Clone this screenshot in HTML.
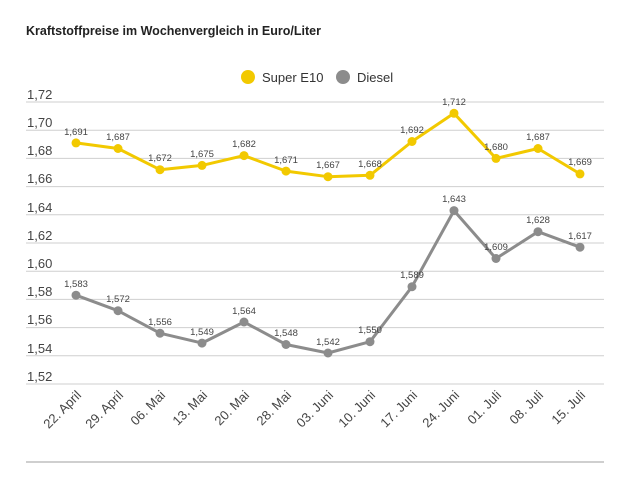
<!DOCTYPE html>
<html><head><meta charset="utf-8"><style>
body{margin:0;background:#fff;}
svg{display:block;font-family:"Liberation Sans","DejaVu Sans",sans-serif;}
</style></head><body>
<svg width="640" height="480" viewBox="0 0 640 480" xmlns="http://www.w3.org/2000/svg">
<text x="26" y="35" font-size="12.5" font-weight="bold" fill="#222">Kraftstoffpreise im Wochenvergleich in Euro/Liter</text>
<circle cx="248" cy="77" r="7" fill="#f2c900"/>
<text x="262" y="82" font-size="13" fill="#333">Super E10</text>
<circle cx="343" cy="77" r="7" fill="#8c8c8c"/>
<text x="357" y="82" font-size="13" fill="#333">Diesel</text>
<g stroke="#cfcfcf" stroke-width="1">
<line x1="26" x2="604" y1="102" y2="102"/><line x1="26" x2="604" y1="130.2" y2="130.2"/>
<line x1="26" x2="604" y1="158.4" y2="158.4"/><line x1="26" x2="604" y1="186.6" y2="186.6"/>
<line x1="26" x2="604" y1="214.8" y2="214.8"/><line x1="26" x2="604" y1="243" y2="243"/>
<line x1="26" x2="604" y1="271.2" y2="271.2"/><line x1="26" x2="604" y1="299.4" y2="299.4"/>
<line x1="26" x2="604" y1="327.6" y2="327.6"/><line x1="26" x2="604" y1="355.8" y2="355.8"/>
<line x1="26" x2="604" y1="384" y2="384"/>
</g>
<line x1="26" x2="604" y1="462" y2="462" stroke="#cfcfcf" stroke-width="2"/>
<g font-size="13" fill="#444">
<text x="27" y="99">1,72</text><text x="27" y="127">1,70</text><text x="27" y="155">1,68</text>
<text x="27" y="183">1,66</text><text x="27" y="212">1,64</text><text x="27" y="240">1,62</text>
<text x="27" y="268">1,60</text><text x="27" y="296">1,58</text><text x="27" y="324">1,56</text>
<text x="27" y="353">1,54</text><text x="27" y="381">1,52</text>
</g>
<polyline fill="none" stroke="#f2c900" stroke-width="3" stroke-linejoin="round" points="76,142.9 118,148.5 160,169.7 202,165.4 244,155.6 286,171.1 328,176.7 370,175.3 412,141.5 454,113.3 496,158.4 538,148.5 580,173.9"/>
<g fill="#f2c900">
<circle cx="76" cy="142.9" r="4.5"/><circle cx="118" cy="148.5" r="4.5"/><circle cx="160" cy="169.7" r="4.5"/><circle cx="202" cy="165.4" r="4.5"/><circle cx="244" cy="155.6" r="4.5"/><circle cx="286" cy="171.1" r="4.5"/><circle cx="328" cy="176.7" r="4.5"/><circle cx="370" cy="175.3" r="4.5"/><circle cx="412" cy="141.5" r="4.5"/><circle cx="454" cy="113.3" r="4.5"/><circle cx="496" cy="158.4" r="4.5"/><circle cx="538" cy="148.5" r="4.5"/><circle cx="580" cy="173.9" r="4.5"/>
</g>
<polyline fill="none" stroke="#8c8c8c" stroke-width="3" stroke-linejoin="round" points="76,295.2 118,310.7 160,333.2 202,343.1 244,322 286,344.5 328,353 370,341.7 412,286.7 454,210.6 496,258.5 538,231.7 580,247.2"/>
<g fill="#8c8c8c">
<circle cx="76" cy="295.2" r="4.5"/><circle cx="118" cy="310.7" r="4.5"/><circle cx="160" cy="333.2" r="4.5"/><circle cx="202" cy="343.1" r="4.5"/><circle cx="244" cy="322" r="4.5"/><circle cx="286" cy="344.5" r="4.5"/><circle cx="328" cy="353" r="4.5"/><circle cx="370" cy="341.7" r="4.5"/><circle cx="412" cy="286.7" r="4.5"/><circle cx="454" cy="210.6" r="4.5"/><circle cx="496" cy="258.5" r="4.5"/><circle cx="538" cy="231.7" r="4.5"/><circle cx="580" cy="247.2" r="4.5"/>
</g>
<g font-size="9.5" fill="#444" text-anchor="middle">
<text x="76" y="135">1,691</text><text x="118" y="140">1,687</text><text x="160" y="161">1,672</text><text x="202" y="157">1,675</text><text x="244" y="147">1,682</text><text x="286" y="163">1,671</text><text x="328" y="168">1,667</text><text x="370" y="167">1,668</text><text x="412" y="133">1,692</text><text x="454" y="105">1,712</text><text x="496" y="150">1,680</text><text x="538" y="140">1,687</text><text x="580" y="165">1,669</text>
<text x="76" y="287">1,583</text><text x="118" y="302">1,572</text><text x="160" y="325">1,556</text><text x="202" y="335">1,549</text><text x="244" y="314">1,564</text><text x="286" y="336">1,548</text><text x="328" y="345">1,542</text><text x="370" y="333">1,550</text><text x="412" y="278">1,589</text><text x="454" y="202">1,643</text><text x="496" y="250">1,609</text><text x="538" y="223">1,628</text><text x="580" y="239">1,617</text>
</g>
<g font-size="13" fill="#444" text-anchor="end">
<text transform="translate(82,396) rotate(-45)">22. April</text>
<text transform="translate(124,396) rotate(-45)">29. April</text>
<text transform="translate(166,396) rotate(-45)">06. Mai</text>
<text transform="translate(208,396) rotate(-45)">13. Mai</text>
<text transform="translate(250,396) rotate(-45)">20. Mai</text>
<text transform="translate(292,396) rotate(-45)">28. Mai</text>
<text transform="translate(334,396) rotate(-45)">03. Juni</text>
<text transform="translate(376,396) rotate(-45)">10. Juni</text>
<text transform="translate(418,396) rotate(-45)">17. Juni</text>
<text transform="translate(460,396) rotate(-45)">24. Juni</text>
<text transform="translate(502,396) rotate(-45)">01. Juli</text>
<text transform="translate(544,396) rotate(-45)">08. Juli</text>
<text transform="translate(586,396) rotate(-45)">15. Juli</text>
</g>
</svg>
</body></html>
